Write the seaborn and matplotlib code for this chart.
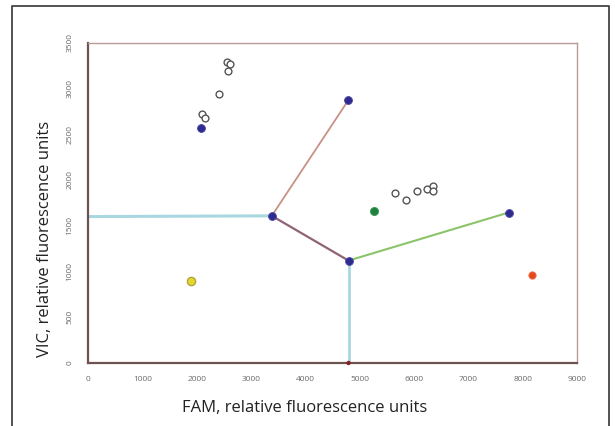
import matplotlib
matplotlib.use("Agg")
import matplotlib.pyplot as plt
import seaborn as sns
import pandas as pd

# ---- data (FAM = x, VIC = y) ----
x_ticks = [0, 1000, 2000, 3000, 4000, 5000, 6000, 7000, 8000, 9000]
y_ticks = [0, 500, 1000, 1500, 2000, 2500, 3000, 3500]

# cluster centroids (blue)
centroid_fam = [2075, 4790, 3383, 4795, 7740]
centroid_vic = [2568, 2870, 1608, 1119, 1644]

# unknown samples (open circles)
sample_fam = [2560, 2620, 2580, 2415, 2100, 2155, 5655, 5855, 6050, 6240, 6355, 6355]
sample_vic = [3290, 3270, 3195, 2943, 2724, 2680, 1857, 1783, 1875, 1900, 1930, 1875]

# single controls
green_fam, green_vic = [5270], [1666]
red_fam, red_vic = [8170], [963]
yellow_fam, yellow_vic = [1897], [897]

# decision boundary segments: (from, to)
cyan_h_fam = [0, 3383]
cyan_h_vic = [1600, 1608]
brown_fam = [3383, 4790]
brown_vic = [1608, 2870]
mauve_fam = [3383, 4795]
mauve_vic = [1608, 1119]
green_line_fam = [4795, 7740]
green_line_vic = [1119, 1644]
cyan_v_fam = [4795, 4795]
cyan_v_vic = [1119, 0]

sns.set_style("white")
plt.rcParams['font.family'] = ['Open Sans', 'DejaVu Sans']

fig = plt.figure(figsize=(6.15, 4.26), dpi=100)
ax = fig.add_axes([88/615, 1-363/426, (577-88)/615, (363-42.7)/426])

def seg(xs, ys, color, lw):
    sns.lineplot(x=xs, y=ys, sort=False, estimator=None, color=color,
                 linewidth=lw, ax=ax, zorder=2)

seg(cyan_h_fam, cyan_h_vic, "#a9d7e0", 2.2)
seg(cyan_v_fam, cyan_v_vic, "#a9d7e0", 2.0)
seg(brown_fam, brown_vic, "#c79282", 1.3)
seg(mauve_fam, mauve_vic, "#8e6474", 1.6)
seg(green_line_fam, green_line_vic, "#8cc46a", 1.5)

sns.scatterplot(x=sample_fam, y=sample_vic, s=24, facecolor="white",
                edgecolor="#555555", linewidth=1.0, ax=ax, zorder=3)
sns.scatterplot(x=centroid_fam, y=centroid_vic, s=32, color="#2f2b8c",
                edgecolor="#4a46a8", linewidth=0.6, ax=ax, zorder=4)
sns.scatterplot(x=green_fam, y=green_vic, s=34, color="#1f7f3c",
                edgecolor="#3a9a55", linewidth=0.6, ax=ax, zorder=4)
sns.scatterplot(x=red_fam, y=red_vic, s=28, color="#e24a1c",
                edgecolor="#f07050", linewidth=0.6, ax=ax, zorder=4)
sns.scatterplot(x=yellow_fam, y=yellow_vic, s=36, color="#e6d62a",
                edgecolor="#a8a040", linewidth=0.9, ax=ax, zorder=4)
# small red mark where the vertical boundary meets the axis
sns.scatterplot(x=[cyan_v_fam[1]], y=[cyan_v_vic[1]], s=10, color="#8a2020",
                edgecolor="none", ax=ax, zorder=5, clip_on=False)

ax.set_xlim(0, 9000)
ax.set_ylim(0, 3500)
ax.set_xticks(x_ticks)
ax.set_yticks(y_ticks)
ax.set_xticklabels([str(v) for v in x_ticks])
ax.set_yticklabels([str(v) for v in y_ticks], rotation=90, va="center")
ax.tick_params(axis="both", labelsize=6, colors="#6a6a6a", length=3,
               width=0.8, direction="inout")
ax.tick_params(axis="x", pad=8)
ax.tick_params(axis="y", pad=9)
for lbl in ax.get_xticklabels() + ax.get_yticklabels():
    lbl.set_color("#6a6a6a")

for side in ["left", "bottom"]:
    ax.spines[side].set_color("#6e5252")
    ax.spines[side].set_linewidth(1.6)
for side in ["top", "right"]:
    ax.spines[side].set_color("#b89a96")
    ax.spines[side].set_linewidth(1.0)
ax.set_xlabel("")
ax.set_ylabel("")

fig.text(305/615, 1-408/426, "FAM, relative fluorescence units",
         ha="center", va="center", fontsize=12, color="#222222")
fig.text(45/615, 1-239/426, "VIC, relative fluorescence units",
         ha="center", va="center", rotation=90, fontsize=12, color="#222222")

# outer frame (open at the bottom)
fig.add_artist(plt.Line2D([12/615, 12/615, 609/615, 609/615],
                          [0, 1-6/426, 1-6/426, 0],
                          transform=fig.transFigure, color="#444444",
                          linewidth=1.3))

fig.savefig("out.png", dpi=100)
